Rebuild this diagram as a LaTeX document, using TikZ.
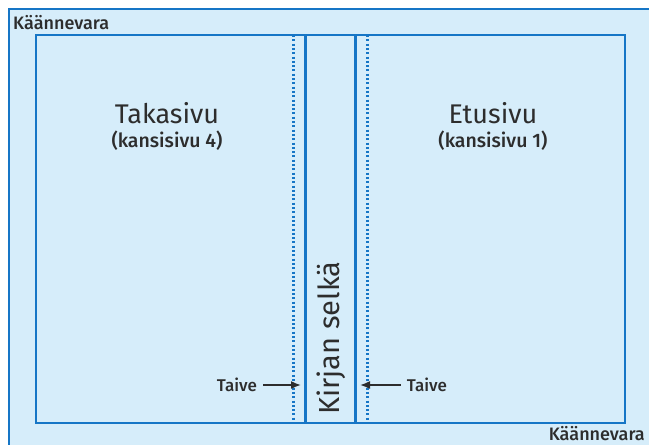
\documentclass[tikz,border=0pt]{standalone}
\usepackage{fontspec}
\setmainfont{Fira Sans}[BoldFont={Fira Sans Medium}]
\usepackage{tikz}
\usetikzlibrary{positioning, arrows.meta}
\definecolor{coverblue}{RGB}{214, 237, 250}
\definecolor{coverline}{RGB}{22, 118, 198}
\definecolor{covertext}{RGB}{45, 45, 45}
\tikzset{
    edgeline/.style={draw=coverline, line width=2.1pt},
    foldline/.style={draw=coverline, line width=2.1pt, dash pattern=on 2pt off 2.3pt},
    marginlabel/.style={font=\fontsize{18}{20}\selectfont\bfseries, text=covertext, inner sep=0pt},
    pagetitle/.style={font=\fontsize{27}{30}\selectfont, text=covertext, inner sep=0pt},
    pagenote/.style={font=\fontsize{19.5}{21}\selectfont\bfseries, text=covertext, inner sep=0pt},
    spinelabel/.style={font=\fontsize{29}{31}\selectfont, text=covertext, inner sep=0pt, rotate=90},
    foldlabel/.style={font=\fontsize{17}{19}\selectfont\bfseries, text=covertext, inner sep=0pt},
    foldarrow/.style={-{Latex[length=10pt, width=8pt]}, line width=1.6pt, draw=covertext}
}

\begin{document}
\begin{tikzpicture}[x=1pt, y=-1pt]
    \useasboundingbox (0,0) rectangle (649,445);
    \clip (0,0) rectangle (649,445);
    % turn-in area and cover outline
    \fill[coverblue] (9,9) rectangle (660,460);
    \draw[edgeline] (9,9) rectangle (660,460);
    \draw[edgeline] (36,35) rectangle (625,423);
    % spine and folds
    \draw[edgeline] (305.5,35) -- (305.5,423);
    \draw[edgeline] (355.5,35) -- (355.5,423);
    \draw[foldline] (293.5,35) -- (293.5,423);
    \draw[foldline] (367.5,35) -- (367.5,423);
    % labels
    \node[marginlabel, anchor=west] (vara1) at (13,23) {Käännevara};
    \node[marginlabel, anchor=east] (vara2) at (645,434) {Käännevara};
    \node[pagetitle] (takasivu) at (167,113) {Takasivu};
    \node[pagenote, below=7pt of takasivu] (takanote) {(kansisivu 4)};
    \node[pagetitle] (etusivu) at (493,113) {Etusivu};
    \node[pagenote, below=7pt of etusivu] (etunote) {(kansisivu 1)};
    \node[spinelabel] (selka) at (331,338) {Kirjan selkä};
    % fold arrows
    \coordinate (foldL) at (301,385);
    \coordinate (foldR) at (360,385);
    \node[foldlabel] (taiveL) at (237,385) {Taive};
    \node[foldlabel] (taiveR) at (427,385) {Taive};
    \draw[foldarrow, shorten <=6pt] (taiveL.east) -- (foldL);
    \draw[foldarrow, shorten <=6pt] (taiveR.west) -- (foldR);
\end{tikzpicture}
\end{document}
